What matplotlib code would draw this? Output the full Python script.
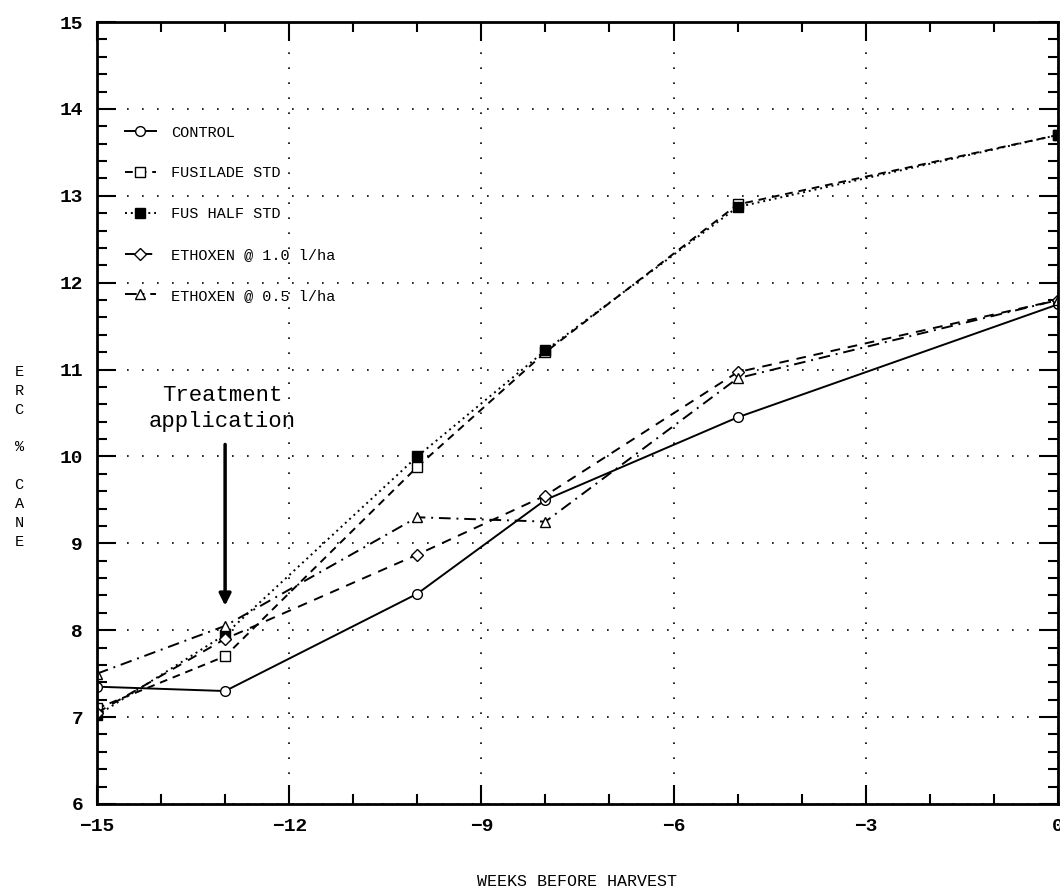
import matplotlib
matplotlib.use("Agg")
import matplotlib.pyplot as plt
from matplotlib.ticker import MultipleLocator

# weeks before harvest and ERC % cane
weeks = [-15, -13, -10, -8, -5, 0]
control = [7.35, 7.3, 8.42, 9.5, 10.45, 11.75]
fusilade_std = [7.1, 7.7, 9.88, 11.2, 12.9, 13.7]
fus_half_std = [7.02, 7.95, 10.0, 11.22, 12.87, 13.7]
ethoxen_10 = [7.05, 7.9, 8.87, 9.55, 10.97, 11.8]
ethoxen_05 = [7.5, 8.05, 9.3, 9.25, 10.9, 11.8]

labels = ["CONTROL", "FUSILADE STD", "FUS HALF STD",
          "ETHOXEN @ 1.0 l/ha", "ETHOXEN @ 0.5 l/ha"]

mono = "Liberation Mono"

fig = plt.figure(figsize=(10.6, 8.96), dpi=100)
ax = fig.add_axes([0.0915, 0.1027, 0.9065, 0.8727])

# series: line style / marker roughly as printed
ax.plot(weeks, control, color="black", lw=1.4, ls="-", marker="o",
        ms=7, mfc="white", mec="black", label=labels[0])
ax.plot(weeks, fusilade_std, color="black", lw=1.4, ls=(0, (4, 3)), marker="s",
        ms=7, mfc="white", mec="black", label=labels[1])
ax.plot(weeks, fus_half_std, color="black", lw=1.4, ls=(0, (1, 2)), marker="s",
        ms=7, mfc="black", mec="black", label=labels[2])
ax.plot(weeks, ethoxen_10, color="black", lw=1.4, ls=(0, (5, 4)), marker="D",
        ms=6, mfc="white", mec="black", label=labels[3])
ax.plot(weeks, ethoxen_05, color="black", lw=1.4, ls=(0, (6, 3, 1, 3)), marker="^",
        ms=7, mfc="white", mec="black", label=labels[4])

ax.set_xlim(-15, 0)
ax.set_ylim(6, 15)
ax.xaxis.set_major_locator(MultipleLocator(3))
ax.xaxis.set_minor_locator(MultipleLocator(1))
ax.yaxis.set_major_locator(MultipleLocator(1))
ax.yaxis.set_minor_locator(MultipleLocator(0.2))
ax.tick_params(which="both", direction="in", top=True, right=True,
               width=1.5, colors="black")
ax.tick_params(which="major", length=14)
ax.tick_params(which="minor", length=7)
ax.tick_params(axis="both", labelsize=14, pad=10)
for lab in ax.get_xticklabels() + ax.get_yticklabels():
    lab.set_fontfamily(mono)
    lab.set_fontweight("bold")
for sp in ax.spines.values():
    sp.set_linewidth(2)

# sparse dotted grid
ax.grid(True, which="major", color="black", ls=(0, (1, 8)), lw=1.2)

leg = ax.legend(loc="upper left", bbox_to_anchor=(0.015, 0.885), frameon=False,
                handlelength=2.0, handletextpad=1.0, labelspacing=1.75,
                prop={"family": mono, "size": 11})

# treatment application arrow
ax.text(-13.05, 10.55, "Treatment\napplication", ha="center", va="center",
        fontsize=16, family=mono, linespacing=1.3)
ax.annotate("", xy=(-13.0, 8.25), xytext=(-13.0, 10.17),
            arrowprops=dict(arrowstyle="-|>,head_width=0.35,head_length=0.7",
                            color="black", lw=2.5))

ax.set_xlabel("WEEKS BEFORE HARVEST", fontsize=12, family=mono, labelpad=28)
fig.text(0.018, 0.49, "E\nR\nC\n\n%\n\nC\nA\nN\nE", ha="center", va="center",
         fontsize=11, family=mono, linespacing=1.45)

fig.savefig("out.png", dpi=100)
